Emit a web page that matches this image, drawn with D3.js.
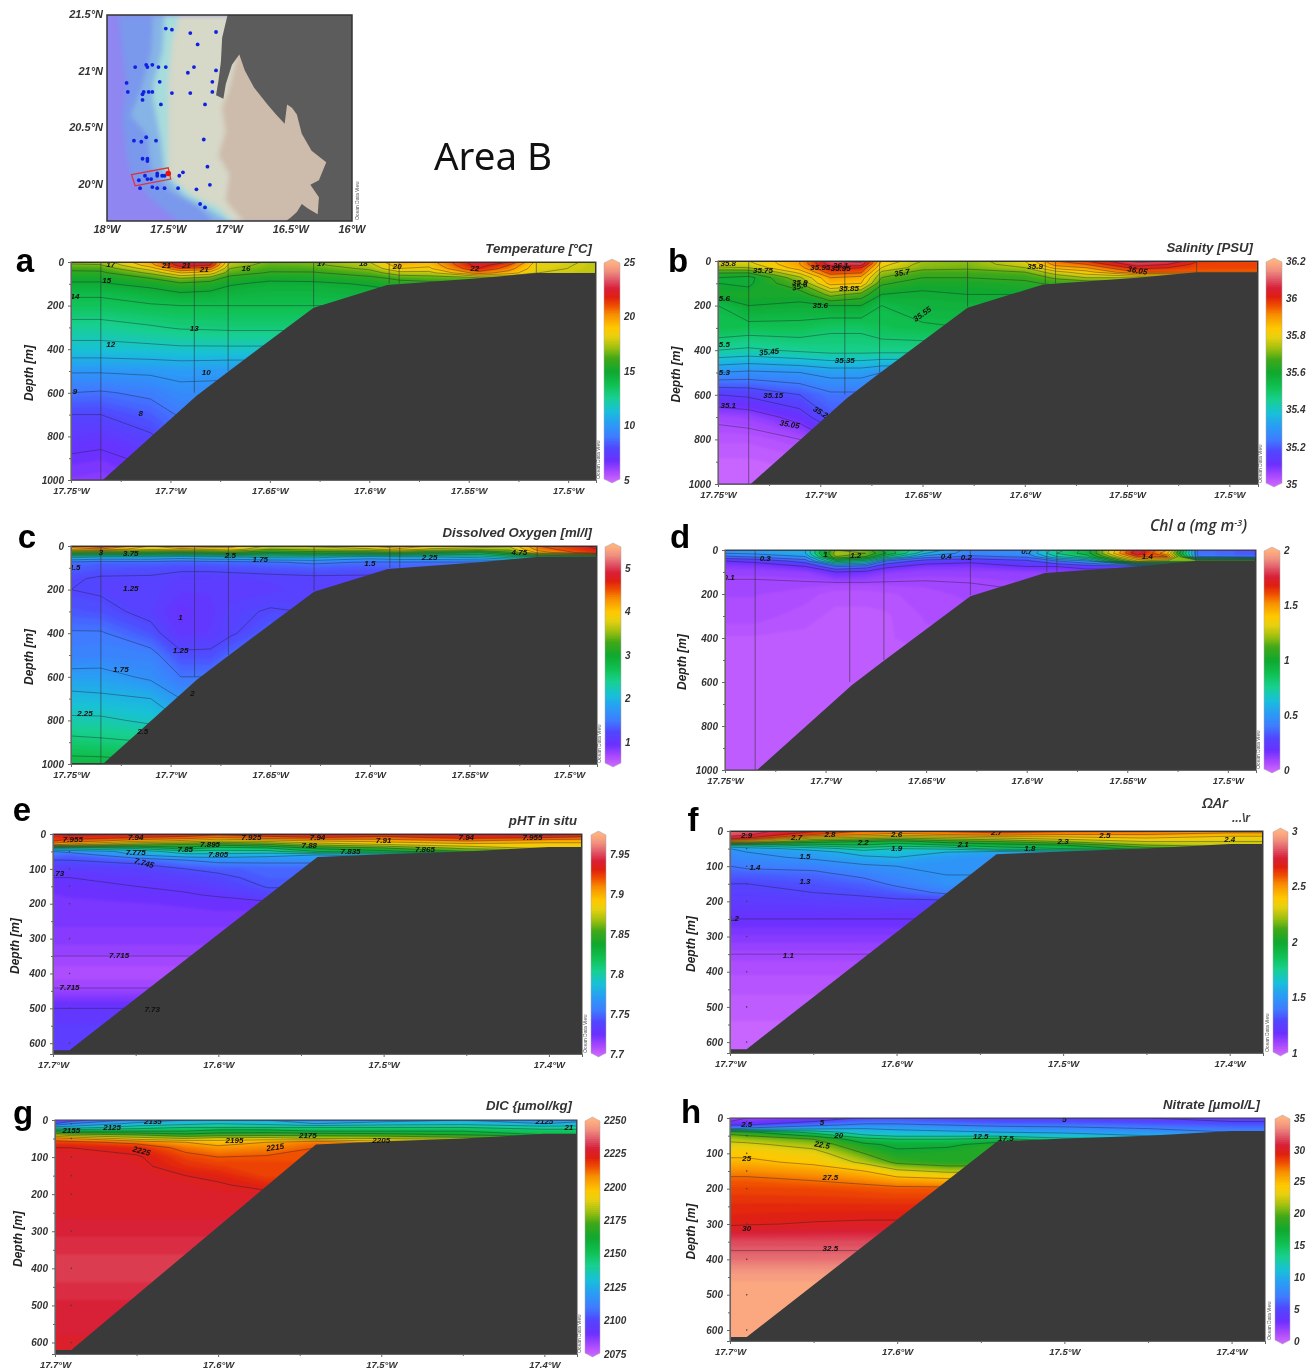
<!DOCTYPE html>
<html>
<head>
<meta charset="utf-8">
<title>Area B sections</title>
<script src="https://d3js.org/d3.v7.min.js"></script>
<style>
	body { margin: 0; background: #fff; }
	svg { display: block; filter: blur(0.45px); }
	text { font-family: "Liberation Sans", Arial, sans-serif; }
	.tick text, .ticklabel { font-weight: bold; font-style: italic; fill: #333; }
	.clabel { font-size: 8px; font-weight: bold; font-style: italic; fill: #111; text-anchor: middle; dominant-baseline: middle; }
</style>
</head>
<body>
<div id="plot"></div>
<script>
// ---- map data, [lon W, lat N]
const mapStations = [[17.52,21.38],[17.47,21.37],[17.32,21.34],[17.11,21.35],[17.26,21.24],[17.77,21.04],[17.68,21.06],[17.67,21.04],[17.63,21.06],[17.58,21.04],[17.52,21.04],[17.29,21.04],[17.34,20.99],[17.11,21.01],[17.84,20.9],[17.57,20.91],[17.14,20.91],[17.83,20.82],[17.7,20.82],[17.71,20.8],[17.66,20.82],[17.63,20.82],[17.47,20.81],[17.32,20.81],[17.14,20.82],[17.71,20.75],[17.56,20.71],[17.2,20.71],[17.68,20.42],[17.78,20.39],[17.72,20.38],[17.6,20.39],[17.21,20.4],[17.71,20.23],[17.67,20.23],[17.67,20.21],[17.18,20.16],[17.38,20.11],[17.41,20.08],[17.69,20.08],[17.59,20.1],[17.59,20.08],[17.55,20.08],[17.53,20.08],[17.74,20.04],[17.67,20.05],[17.64,20.05],[17.16,20.0],[17.73,19.97],[17.63,19.98],[17.59,19.97],[17.53,19.97],[17.42,19.97],[17.27,19.96],[17.24,19.83],[17.2,19.8]];
const mapRedStation = [17.5, 20.1];
const mapTransect = [[17.8,20.09],[17.5,20.15],[17.48,20.05],[17.77,19.99]];
const mapLand = [[17.016,21.5],[17.06,21.3],[17.07,21.09],[17.09,20.92],[17.11,20.79],[17.05,20.76],[17.03,20.89],[16.98,21.06],[16.92,21.15],[16.875,21.01],[16.8,20.86],[16.69,20.71],[16.62,20.62],[16.55,20.54],[16.53,20.71],[16.49,20.68],[16.45,20.62],[16.41,20.45],[16.33,20.3],[16.21,20.2],[16.27,20.04],[16.34,20],[16.27,19.89],[16.28,19.74],[16.36,19.79],[16.41,19.83],[16.45,19.76],[16.5,19.71],[16.55,19.67],[16,19.67],[16,21.5]];
const bathyA = [[17.906,21.5],[17.875,21.18],[17.844,20.89],[17.875,20.59],[17.844,20.3],[17.81,20.09],[17.625,19.86],[17.41,19.67],[16,19.67],[16,21.5]];
const bathyB = [[17.625,21.5],[17.64,21.18],[17.72,20.85],[17.81,20.61],[17.67,20.44],[17.64,20.15],[17.5,19.95],[17.25,19.8],[17.125,19.67],[16,19.67],[16,21.5]];
const bathyC = [[17.53,21.5],[17.55,21.18],[17.625,20.89],[17.625,20.75],[17.56,20.38],[17.53,20.09],[17.375,19.91],[17.19,19.8],[17.0,19.67],[16,19.67],[16,21.5]];
const bathyD = [[17.41,21.5],[17.47,21.27],[17.5,20.89],[17.5,20.7],[17.5,20.38],[17.5,20.09],[17.31,19.91],[17.09,19.8],[16.97,19.67],[16,19.67],[16,21.5]];
const bathyE = [[16.92,21.2],[17.0,20.85],[17.06,20.68],[17.03,20.47],[17.09,20.26],[17,20.09],[17.03,19.86],[16.88,19.67],[16,19.67],[16,21.5]];
const bathyColors = ["#7a98ec", "#86b4e6", "#a6dcdc", "#d6d8c8", "#cdbbab"];
const mapLonTicks = [18, 17.5, 17, 16.5, 16];
const mapLatTicks = [21.5, 21, 20.5, 20];

// ---- section grids, north section (a-d)
const lonsNorth = [17.75,17.735,17.71,17.695,17.68,17.67,17.65,17.628,17.6,17.585,17.57,17.545,17.53,17.515,17.486];
const depthsNorth = [0,15,30,50,75,100,150,200,300,400,500,600,700,800,900,1000];
const bottomNorth = [[17.75,1000],[17.734,1000],[17.687,615],[17.672,510],[17.628,210],[17.591,105],[17.545,75],[17.516,50],[17.486,50],[17.486,1000]];
const stationsNorth = [[17.735,1000],[17.688,600],[17.671,500],[17.628,205],[17.59,100],[17.585,100],[17.516,50]];
const lonTicksNorth = [17.75,17.7,17.65,17.6,17.55,17.5];
const lonMinorNorth = [17.725,17.675,17.625,17.575,17.525];
const depthTicksNorth = [0,200,400,600,800,1000];
const depthMinorNorth = [100,300,500,700,900];

// rows may be short, the last value carries on under the sea bed
const temperature = [
	[17.3,17.4,20,23,22.5,18,16.8,17,18,20,19.5,22.8,22,18.5,17.8],
	[16.8,16.9,19.5,22.5,22,17.5,16.6,16.8,17.6,19.5,19.2,22.5,21,18.3,17.8],
	[16.2,16.3,18.5,21,20.5,17,16.3,16.4,17.2,19,18.8,22,20.5,18.2,17.8],
	[15.8,15.8,17.2,19,18.5,16.5,15.9,15.9,16.5,17.6,17.6,20.5,19.5,18,17.8],
	[15.2,15.2,16,17,16.5,15.6,15.2,15.3,15.7,16.2,16.5],
	[14.9,14.9,15.3,15.8,15.6,15.1,14.8,14.8,15.1,15.6],
	[14.1,14.1,14.5,14.8,14.7,14.5,14.4,14.4,14.6],
	[13.7,13.7,13.9,14,14,14,14,14],
	[12.6,12.6,12.9,13.1,13.15,13.2,13.2,13.2],
	[11.6,11.6,11.7,11.8,11.8,11.8,11.8],
	[10.1,10.1,10.2,10.3,10.25,10.2,10.2],
	[9,8.9,9.2,9.7,9.7],
	[8,8,8.5,9.1],
	[7.4,7.3,7.9,8.6],
	[6.9,6.8,7.2],
	[6.5,6.4,6.8]
];
const salinity = [
	[35.8,35.8,35.9,36.1,36.12,35.85,35.75,35.72,35.8,35.95,36,36.12,36.1,36,35.98],
	[35.78,35.78,35.9,36.08,36.08,35.82,35.73,35.72,35.78,35.92,35.95,36.08,36.05,35.98,35.98],
	[35.74,35.75,35.88,36.02,36,35.8,35.72,35.71,35.75,35.87,35.9,36.02,36,35.98,35.98],
	[35.66,35.66,35.82,35.98,35.96,35.74,35.68,35.68,35.7,35.78,35.83,35.95,35.95],
	[35.6,35.58,35.74,35.9,35.88,35.7,35.65,35.65,35.66,35.71,35.75],
	[35.6,35.59,35.7,35.87,35.85,35.66,35.62,35.62,35.64,35.66],
	[35.62,35.62,35.62,35.72,35.68,35.6,35.59,35.6,35.6],
	[35.55,35.6,35.59,35.6,35.6,35.55,35.58,35.58],
	[35.54,35.53,35.53,35.51,35.51,35.53,35.54,35.55],
	[35.45,35.44,35.46,35.47,35.47,35.47,35.47],
	[35.3,35.29,35.3,35.32,35.32,35.3,35.3],
	[35.15,35.16,35.2,35.24,35.24],
	[35.06,35.07,35.12,35.2],
	[35.03,35.03,35.05,35.1],
	[35.01,35.01,35.02],
	[35,35,35.01]
];
const oxygen = [
	[4.4,4.7,4,4.4,4.2,4.1,3.7,3.8,4,4.3,4,3.9,3.8,4.5,4.8],
	[4.1,4.2,3.8,3.9,3.8,3.9,3.5,3.6,3.7,3.9,3.7,3.6,3.6,4.4,4.75],
	[3.2,3.1,3.1,3,3.1,3.2,3,3.1,3.1,3.2,3,2.8,3.2,4.1,4.75],
	[2.1,2,2,1.9,2,2,2.1,2.1,1.9,2,2,2.1,2.4],
	[1.45,1.4,1.42,1.38,1.4,1.42,1.47,1.55,1.47,1.47],
	[1.4,1.35,1.32,1.3,1.3,1.32,1.35,1.38,1.35,1.4],
	[1.28,1.22,1.22,1.16,1.16,1.16,1.18,1.2,1.2],
	[1.25,1.22,1.2,1.12,1.12,1.12,1.15,1.2],
	[1.35,1.32,1.18,1.02,1.08,1.2,1.27,1.24],
	[1.52,1.52,1.33,1.08,1.12,1.22,1.4],
	[1.58,1.6,1.58,1.3,1.3,1.43,1.55],
	[1.85,1.85,1.7,1.5,1.5],
	[2.08,2.05,2,1.75],
	[2.3,2.3,2.2,2],
	[2.58,2.55,2.5],
	[2.85,2.85,2.8]
];
const chlorophyll = [
	[0.5,0.55,0.6,1.2,1.15,0.95,0.7,0.45,0.5,0.75,0.95,1.75,1.5,0.4,0.33],
	[0.5,0.52,0.6,1.25,1.2,1,0.6,0.45,0.5,0.8,0.95,1.8,1.4,0.4,0.33],
	[0.38,0.42,0.5,1.2,1.1,0.8,0.45,0.38,0.42,0.7,0.85,1.6,1.6,0.4,0.33],
	[0.2,0.22,0.35,0.85,0.75,0.4,0.25,0.22,0.28,0.4,0.5,1.3,1.2],
	[0.14,0.15,0.2,0.4,0.35,0.22,0.16,0.16,0.2,0.2,0.25],
	[0.12,0.12,0.13,0.2,0.18,0.14,0.12,0.12,0.13,0.14],
	[0.09,0.09,0.095,0.095,0.095,0.095,0.095,0.1,0.11],
	[0.09,0.09,0.08,0.05,0.05,0.06,0.08,0.095],
	[0.08,0.08,0.05,0.04,0.04,0.04,0.07,0.08],
	[0.04,0.04,0.04,0.04,0.04,0.04,0.06],
	[0.035],[0.035],[0.035],[0.035],[0.035],[0.035]
];

// ---- section grids, south section (e-h)
const lonsSouth = [17.7,17.69,17.65,17.62,17.6,17.57,17.54,17.5,17.45,17.4,17.38];
const depthsSouth = [0,10,20,30,40,50,60,75,100,125,150,175,200,250,300,350,400,450,500,550,631];
const bottomSouth = [[17.7,620],[17.69,620],[17.54,66],[17.5,58],[17.45,50],[17.4,37],[17.38,37],[17.38,631],[17.7,631]];
const lonTicksSouth = [17.7,17.6,17.5,17.4];
const lonMinorSouth = [17.65,17.55,17.45];
const depthTicksSouth = [0,100,200,300,400,500,600];
const depthMinorSouth = [50,150,250,350,450,550];
const bottleDepths = [10,50,100,150,200,300,400,500,600];

const phInSitu = [
	[7.94,7.945,7.94,7.935,7.93,7.935,7.94,7.935,7.94,7.945,7.94],
	[7.93,7.93,7.925,7.92,7.91,7.92,7.925,7.92,7.93,7.925,7.92],
	[7.925,7.92,7.9,7.89,7.88,7.885,7.895,7.9,7.91,7.9,7.9],
	[7.9,7.89,7.86,7.85,7.84,7.85,7.87,7.88,7.89,7.89,7.89],
	[7.8,7.8,7.81,7.83,7.815,7.82,7.84,7.85,7.87,7.885,7.885],
	[7.76,7.765,7.78,7.8,7.8,7.8,7.82,7.83,7.85],
	[7.755,7.75,7.775,7.785,7.785,7.78,7.775,7.78],
	[7.745,7.745,7.75,7.76,7.765,7.765,7.765],
	[7.733,7.735,7.738,7.745,7.748,7.75],
	[7.73,7.73,7.733,7.738,7.742,7.749],
	[7.726,7.727,7.73,7.732,7.737,7.746],
	[7.724,7.725,7.727,7.729,7.731,7.74],
	[7.723,7.723,7.724,7.725,7.726],
	[7.722,7.722,7.722,7.722],
	[7.72,7.72,7.72],
	[7.715,7.715,7.715],
	[7.71,7.71],
	[7.716,7.716],
	[7.73,7.73],
	[7.734],
	[7.735]
];
const omegaAr = [
	[2.85,2.85,2.72,2.6,2.6,2.62,2.65,2.62,2.6,2.55,2.55],
	[2.85,2.82,2.6,2.5,2.45,2.5,2.55,2.5,2.5,2.45,2.45],
	[2.75,2.7,2.3,2.25,2.2,2.25,2.3,2.35,2.4,2.35,2.35],
	[2.4,2.35,2.05,2,1.95,2.05,2.1,2.2,2.3,2.3,2.3],
	[1.75,1.75,1.85,1.9,1.85,1.9,1.95,2,2.2,2.3,2.3],
	[1.5,1.55,1.65,1.75,1.7,1.72,1.85,1.9,2.05],
	[1.48,1.5,1.55,1.65,1.65,1.6,1.55,1.6],
	[1.45,1.47,1.52,1.58,1.6,1.52,1.5],
	[1.4,1.42,1.43,1.48,1.5,1.5],
	[1.35,1.35,1.37,1.42,1.46,1.5],
	[1.3,1.3,1.33,1.36,1.42,1.49],
	[1.27,1.27,1.3,1.32,1.35,1.42],
	[1.25,1.25,1.26,1.27,1.28],
	[1.2,1.2,1.2,1.2],
	[1.15,1.15,1.15],
	[1.1,1.1,1.1],
	[1.07,1.07],
	[1.05,1.05],
	[1.03,1.03],
	[1.02],
	[1]
];
const dic = [
	[2095,2100,2118,2125,2128,2125,2118,2120,2125,2118,2122],
	[2105,2115,2128,2132,2135,2132,2125,2130,2132,2125,2128],
	[2130,2130,2140,2145,2145,2145,2145,2145,2145,2140,2140],
	[2160,2155,2155,2155,2160,2160,2155,2155,2155,2150,2150],
	[2185,2180,2175,2168,2170,2172,2172,2170,2165,2155,2155],
	[2210,2205,2190,2185,2190,2190,2185,2185,2180],
	[2218,2218,2212,2205,2200,2205,2212,2200],
	[2225,2225,2222,2212,2208,2210,2215],
	[2228,2228,2226,2218,2215,2216],
	[2228,2228,2227,2221,2219,2218],
	[2228,2228,2228,2225,2223,2218],
	[2228,2228,2228,2227,2226,2222],
	[2228,2228,2228,2227,2227],
	[2228,2228,2228,2228],
	[2230,2230,2230],
	[2232,2232,2232],
	[2234,2234],
	[2232,2232],
	[2230,2230],
	[2229],
	[2228]
];
const nitrate = [
	[2,2.5,3,5.5,6,5.5,5,5,5,4.5,4],
	[2.5,2.5,5,6.5,6.5,6,5.5,5.5,5,5,5],
	[5,5,7,8,8,7.5,7,7,6.5,6,6],
	[7,8,9.5,10,9.5,9,8.5,8,7.5,7,7],
	[19,18,14,11,11,10.5,10,9.5,9,7.5,7],
	[20.5,20,17,13,12,12,12,11.5,10],
	[22,21.5,20,16,15,15,16,13],
	[23,23,21.5,18,17,17,18.5],
	[24.5,24.5,23.5,20,18,18.5],
	[25.5,25.5,24.5,22,19.5,18.5],
	[26.8,26.8,26.2,25,23,22],
	[27.9,27.9,27.4,26.8,26,25.5],
	[28.5,28.5,28.4,28.2,28],
	[29.3,29.3,29.3,29.3],
	[29.8,29.9,30.1,30.2],
	[32,32,32],
	[33,33],
	[34.5,34.5],
	[35,35],
	[35],
	[35]
];

// ---- contour labels, [lon, depth, text, angle]
const labelsA = [[17.73,15,"17"],[17.702,18,"21"],[17.692,18,"21"],[17.683,35,"21"],[17.662,30,"16"],[17.624,8,"17"],[17.603,8,"18"],[17.586,22,"20"],[17.547,30,"22"],[17.732,85,"15"],[17.748,162,"14"],[17.688,308,"13"],[17.73,378,"12"],[17.682,510,"10"],[17.748,595,"9"],[17.715,695,"8"]];
const labelsB = [[17.745,12,"35.8"],[17.728,45,"35.75"],[17.69,35,"35.95"],[17.7,30,"35.95"],[17.69,20,"36.1"],[17.71,100,"35.9"],[17.686,125,"35.85"],[17.66,55,"35.7",-10],[17.7,200,"35.6"],[17.71,115,"35.6",-15],[17.748,170,"35.6"],[17.65,240,"35.55",-35],[17.595,25,"35.9"],[17.545,45,"36.05",10],[17.725,410,"35.45",-5],[17.688,450,"35.35"],[17.748,375,"35.5"],[17.748,500,"35.3"],[17.723,605,"35.15"],[17.715,735,"35.05",10],[17.745,650,"35.1"],[17.7,680,"35.2",30]];
const labelsC = [[17.735,30,"3"],[17.72,35,"3.75"],[17.67,45,"2.5"],[17.655,65,"1.75"],[17.6,80,"1.5"],[17.57,55,"2.25"],[17.525,30,"4.75"],[17.748,100,"1.5"],[17.72,195,"1.25"],[17.695,330,"1"],[17.695,480,"1.25"],[17.725,570,"1.75"],[17.689,680,"2",0],[17.743,770,"2.25"],[17.714,855,"2.5"]];
const labelsD = [[17.73,40,"0.3"],[17.63,35,"0.2"],[17.64,30,"0.4"],[17.748,125,"0.1"],[17.7,20,"1"],[17.685,25,"1.2"],[17.54,30,"1.4"],[17.6,10,"0.7"]];
const labelsE = [[17.688,18,"7.955"],[17.65,10,"7.94"],[17.58,10,"7.925"],[17.54,10,"7.94"],[17.5,20,"7.91"],[17.45,10,"7.94"],[17.41,10,"7.955"],[17.605,30,"7.895"],[17.62,45,"7.85"],[17.545,35,"7.88"],[17.6,60,"7.805"],[17.52,50,"7.835"],[17.475,45,"7.865"],[17.65,55,"7.775"],[17.645,85,"7.745",15],[17.698,115,"7.73"],[17.66,350,"7.715"],[17.69,440,"7.715"],[17.64,505,"7.73"]];
const labelsF = [[17.69,15,"2.9"],[17.66,20,"2.7"],[17.64,10,"2.8"],[17.6,10,"2.6"],[17.54,5,"2.7"],[17.475,15,"2.5"],[17.4,25,"2.4"],[17.62,35,"2.2"],[17.6,50,"1.9"],[17.56,40,"2.1"],[17.5,30,"2.3"],[17.52,50,"1.8"],[17.655,75,"1.5"],[17.685,105,"1.4"],[17.655,145,"1.3"],[17.698,250,"1.2"],[17.665,355,"1.1"]];
const labelsG = [[17.69,30,"2155"],[17.665,22,"2125"],[17.64,5,"2135"],[17.59,55,"2195"],[17.545,42,"2175"],[17.565,75,"2215",-8],[17.647,85,"2225",15],[17.5,55,"2205"],[17.4,5,"2125"],[17.385,20,"21"]];
const labelsH = [[17.69,20,"2.5"],[17.645,15,"5"],[17.635,50,"20"],[17.55,53,"12.5"],[17.535,60,"17.5"],[17.645,78,"22.5",10],[17.69,115,"25"],[17.64,170,"27.5"],[17.69,315,"30"],[17.64,370,"32.5"],[17.5,5,"5"]];

// ---- colour map
const colorStops = [[0,"#c864ff"],[0.04,"#a848ff"],[0.09,"#6c30ff"],[0.15,"#5048ff"],[0.2,"#3f7cff"],[0.26,"#2a9cf5"],[0.32,"#18c0d8"],[0.38,"#18d090"],[0.44,"#10c050"],[0.5,"#10a830"],[0.56,"#40a818"],[0.61,"#a0c010"],[0.66,"#e8d010"],[0.7,"#ffc800"],[0.76,"#f89000"],[0.8,"#f05000"],[0.84,"#e02010"],[0.88,"#d82038"],[0.92,"#e05868"],[0.96,"#f09080"],[1,"#ffb080"]];
const colorAt = d3.scaleLinear().domain(colorStops.map(d => d[0])).range(colorStops.map(d => d[1])).clamp(true);

const svg = d3.select("#plot").append("svg").attr("width", 1315).attr("height", 1372);
const defs = svg.append("defs");

// ---- map
function drawMap() {
	const x = d3.scaleLinear().domain([18, 16]).range([107, 352]);
	const y = d3.scaleLinear().domain([21.5, 19.68]).range([15, 221]);
	const line = d3.line().x(d => x(d[0])).y(d => y(d[1])).curve(d3.curveLinearClosed);
	defs.append("clipPath").attr("id", "mapclip").append("rect")
		.attr("x", 107).attr("y", 15).attr("width", 245).attr("height", 206);
	const g = svg.append("g");
	const inner = g.append("g").attr("clip-path", "url(#mapclip)");
	inner.append("rect").attr("x", 107).attr("y", 15).attr("width", 245).attr("height", 206).attr("fill", "#8f86f2");
	const soft = inner.append("g").style("filter", "blur(2.5px)");
	[bathyA, bathyB, bathyC, bathyD, bathyE].forEach((b, i) => {
		soft.append("path").attr("d", line(b)).attr("fill", bathyColors[i]);
	});
	inner.append("path").attr("d", line(mapLand)).attr("fill", "#5c5c5c");
	inner.append("path").attr("d", line(mapTransect)).attr("fill", "none").attr("stroke", "#e03030").attr("stroke-width", 1.2);
	inner.selectAll(".st").data(mapStations).enter().append("circle")
		.attr("cx", d => x(d[0])).attr("cy", d => y(d[1])).attr("r", 1.9).attr("fill", "#1020e0");
	inner.append("circle").attr("cx", x(mapRedStation[0])).attr("cy", y(mapRedStation[1])).attr("r", 2.8).attr("fill", "#f01010");
	g.append("rect").attr("x", 107).attr("y", 15).attr("width", 245).attr("height", 206)
		.attr("fill", "none").attr("stroke", "#333").attr("stroke-width", 1.5);
	g.selectAll(".lonl").data(mapLonTicks).enter().append("text").attr("class", "ticklabel")
		.attr("x", d => x(d)).attr("y", 233).attr("text-anchor", "middle").attr("font-size", 11)
		.text(d => d + "°W");
	g.selectAll(".latl").data(mapLatTicks).enter().append("text").attr("class", "ticklabel")
		.attr("x", 103).attr("y", d => y(d) + 3).attr("text-anchor", "end").attr("font-size", 11)
		.text(d => d + "°N");
	g.append("text").attr("transform", "translate(359,220) rotate(-90)").attr("font-size", 5).attr("fill", "#555").text("Ocean Data View");
}

// ---- one section panel
function drawSection(p) {
	const { box } = p;
	const x = d3.scaleLinear().domain(p.lonDomain).range([box.left, box.right]);
	const y = d3.scaleLinear().domain(p.depthDomain).range([box.top, box.bottom]);
	const color = v => colorAt((v - p.bar[0]) / (p.bar[1] - p.bar[0]));

	// rows can stop at the sea bed, carry the last value to the end of the grid
	const nx = p.lons.length, ny = p.depths.length;
	const flat = [];
	p.values.forEach(row => {
		for (let i = 0; i < nx; i++) flat.push(i < row.length ? row[i] : row[row.length - 1]);
	});

	// contour grid cells to lon and depth, then to pixels
	const gx = d3.scaleLinear().domain(p.lons.map((d, i) => i + 0.5)).range(p.lons.map(x)).clamp(true);
	const gy = d3.scaleLinear().domain(p.depths.map((d, j) => j + 0.5)).range(p.depths.map(y)).clamp(true);
	const path = d3.geoPath(d3.geoTransform({ point(a, b) { this.stream.point(gx(a), gy(b)); } }));

	const clipId = "clip" + p.letter;
	defs.append("clipPath").attr("id", clipId).append("rect")
		.attr("x", box.left).attr("y", box.top).attr("width", box.right - box.left).attr("height", box.bottom - box.top);
	const g = svg.append("g");
	const inner = g.append("g").attr("clip-path", `url(#${clipId})`);

	const fillLevels = d3.range(0, 90).map(i => p.bar[0] + (p.bar[1] - p.bar[0]) * i / 90);
	const contours = d3.contours().size([nx, ny]);
	const fills = inner.append("g").style("filter", "blur(0.8px)");
	fills.append("rect").attr("x", box.left - 4).attr("y", box.top - 4)
		.attr("width", box.right - box.left + 8).attr("height", box.bottom - box.top + 8)
		.attr("fill", color(p.bar[0]));
	fills.selectAll("path").data(contours.thresholds(fillLevels)(flat)).enter().append("path")
		.attr("d", path).attr("fill", d => color(d.value)).attr("stroke", d => color(d.value)).attr("stroke-width", 0.4);

	// iso lines
	inner.append("g").selectAll("path").data(contours.thresholds(p.isoLevels)(flat)).enter().append("path")
		.attr("d", path).attr("fill", "none").attr("stroke", "#1c1c2c").attr("stroke-opacity", 0.55).attr("stroke-width", 0.7);

	// stations
	if (p.stations) {
		inner.selectAll(".stn").data(p.stations).enter().append("line")
			.attr("x1", d => x(d[0])).attr("x2", d => x(d[0])).attr("y1", y(0)).attr("y2", d => y(d[1]))
			.attr("stroke", "#333").attr("stroke-opacity", 0.7).attr("stroke-width", 0.8);
	} else {
		inner.selectAll(".dot").data(bottleDepths).enter().append("circle")
			.attr("cx", x(17.69)).attr("cy", d => y(d)).attr("r", 0.8).attr("fill", "#444");
	}

	// sea bed
	inner.append("path")
		.attr("d", d3.line().x(d => x(d[0])).y(d => y(d[1])).curve(d3.curveLinearClosed)(p.bottom))
		.attr("fill", "#3a3a3a");

	// labels
	inner.selectAll(".clabel").data(p.labels).enter().append("text").attr("class", "clabel")
		.attr("transform", d => `translate(${x(d[0])},${y(d[1])}) rotate(${d[3] || 0})`)
		.text(d => d[2]);

	g.append("rect").attr("x", box.left).attr("y", box.top)
		.attr("width", box.right - box.left).attr("height", box.bottom - box.top)
		.attr("fill", "none").attr("stroke", "#444").attr("stroke-width", 1);

	// axes
	const xAxis = d3.axisBottom(x).tickValues(p.lonTicks).tickSize(3).tickPadding(4).tickFormat(d => d + "°W");
	const gxa = g.append("g").attr("transform", `translate(0,${box.bottom})`).call(xAxis);
	g.append("g").attr("transform", `translate(0,${box.bottom})`)
		.call(d3.axisBottom(x).tickValues(p.lonMinor).tickSize(2).tickFormat(""));
	const yAxis = d3.axisLeft(y).tickValues(p.depthTicks).tickSize(3).tickPadding(4).tickFormat(d => d);
	const gya = g.append("g").attr("transform", `translate(${box.left},0)`).call(yAxis);
	g.append("g").attr("transform", `translate(${box.left},0)`)
		.call(d3.axisLeft(y).tickValues(p.depthMinor).tickSize(2).tickFormat(""));
	g.selectAll(".domain").attr("stroke", "#666");
	g.selectAll(".tick line").attr("stroke", "#666");
	gxa.selectAll("text").attr("font-size", 9.5).style("font-family", "Liberation Sans");
	gya.selectAll("text").attr("font-size", 10).style("font-family", "Liberation Sans");

	g.append("text").attr("class", "ticklabel")
		.attr("transform", `translate(${p.depthLabelX},${(box.top + box.bottom) / 2 + 2}) rotate(-90)`)
		.attr("text-anchor", "middle").attr("font-size", 12).style("fill", "#222").text("Depth [m]");

	// title and letter
	if (p.title) {
		g.append("text").attr("x", p.titleX).attr("y", p.titleY).attr("text-anchor", "end")
			.attr("font-size", 13.2).attr("font-weight", "bold").attr("font-style", "italic").attr("fill", "#333").text(p.title);
	}
	g.append("text").attr("x", p.letterX).attr("y", p.letterY).attr("text-anchor", "middle")
		.attr("font-size", 33).attr("font-weight", "bold").attr("fill", "#000").text(p.letter);

	// colour bar
	const cb = p.colorbar;
	const cy = d3.scaleLinear().domain(p.bar).range([box.bottom, box.top]);
	const barId = "bar" + p.letter;
	const mid = (cb.x0 + cb.x1) / 2;
	const outline = d3.line()([
		[cb.x0, cy(p.bar[1]) + 1], [mid, cy(p.bar[1]) - 3], [cb.x1, cy(p.bar[1]) + 1],
		[cb.x1, cy(p.bar[0]) - 1], [mid, cy(p.bar[0]) + 3], [cb.x0, cy(p.bar[0]) - 1]
	]) + "Z";
	defs.append("clipPath").attr("id", barId).append("path").attr("d", outline);
	const steps = d3.range(0, 120).map(i => p.bar[0] + (p.bar[1] - p.bar[0]) * i / 119);
	const bh = Math.abs(cy(steps[1]) - cy(steps[0])) + 1;
	g.append("g").attr("clip-path", `url(#${barId})`).selectAll("rect").data(steps).enter().append("rect")
		.attr("x", cb.x0).attr("width", cb.x1 - cb.x0)
		.attr("y", d => cy(d) - bh / 2 - (d === p.bar[1] ? 4 : 0))
		.attr("height", d => bh + (d === p.bar[1] || d === p.bar[0] ? 4 : 0))
		.attr("fill", color);
	g.append("path").attr("d", outline).attr("fill", "none").attr("stroke", "#aaa").attr("stroke-width", 0.5);
	const barAxis = g.append("g").attr("transform", `translate(${cb.x1},0)`)
		.call(d3.axisRight(cy).tickValues(p.barTicks).tickSize(0).tickPadding(4).tickFormat(d => d));
	barAxis.select(".domain").remove();
	barAxis.selectAll("text").attr("font-size", 10).style("font-family", "Liberation Sans");

	g.append("text").attr("transform", `translate(${cb.x0 - 4},${box.bottom - 1}) rotate(-90)`)
		.attr("font-size", 5).attr("fill", "#555").text("Ocean Data View");
}

const northShared = { lons: lonsNorth, depths: depthsNorth, bottom: bottomNorth, stations: stationsNorth, lonDomain: [17.75, 17.486], depthDomain: [0, 1000], lonTicks: lonTicksNorth, lonMinor: lonMinorNorth, depthTicks: depthTicksNorth, depthMinor: depthMinorNorth };
const southShared = { lons: lonsSouth, depths: depthsSouth, bottom: bottomSouth, lonDomain: [17.7, 17.38], depthDomain: [0, 631], lonTicks: lonTicksSouth, lonMinor: lonMinorSouth, depthTicks: depthTicksSouth, depthMinor: depthMinorSouth };

const panels = [
	{ ...northShared, letter: "a", values: temperature, labels: labelsA, bar: [5, 25], barTicks: [5,10,15,20,25], isoLevels: d3.range(6, 25, 1), title: "Temperature [°C]",
		box: { left: 71, right: 596, top: 262, bottom: 480 }, colorbar: { x0: 604, x1: 620 }, depthLabelX: 33, titleX: 592, titleY: 253, letterX: 25, letterY: 272 },
	{ ...northShared, letter: "b", values: salinity, labels: labelsB, bar: [35, 36.2], barTicks: [35,35.2,35.4,35.6,35.8,36,36.2], isoLevels: d3.range(35.05, 36.2, 0.05), title: "Salinity [PSU]",
		box: { left: 718, right: 1258, top: 261, bottom: 484 }, colorbar: { x0: 1266, x1: 1282 }, depthLabelX: 680, titleX: 1253, titleY: 252, letterX: 678, letterY: 272 },
	{ ...northShared, letter: "c", values: oxygen, labels: labelsC, bar: [0.5, 5.5], barTicks: [1,2,3,4,5], isoLevels: d3.range(1, 5.5, 0.25), title: "Dissolved Oxygen [ml/l]",
		box: { left: 71, right: 597, top: 546, bottom: 764 }, colorbar: { x0: 605, x1: 621 }, depthLabelX: 33, titleX: 592, titleY: 537, letterX: 27, letterY: 548 },
	{ ...northShared, letter: "d", values: chlorophyll, labels: labelsD, bar: [0, 2], barTicks: [0,0.5,1,1.5,2], isoLevels: d3.range(0.1, 2, 0.1), title: null,
		box: { left: 725, right: 1256, top: 550, bottom: 770 }, colorbar: { x0: 1264, x1: 1280 }, depthLabelX: 686, letterX: 680, letterY: 548 },
	{ ...southShared, letter: "e", values: phInSitu, labels: labelsE, bar: [7.7, 7.975], barTicks: [7.7,7.75,7.8,7.85,7.9,7.95], isoLevels: d3.range(7.715, 7.97, 0.015), title: "pHT in situ",
		box: { left: 53, right: 582, top: 834, bottom: 1054 }, colorbar: { x0: 591, x1: 606 }, depthLabelX: 19, titleX: 577, titleY: 825, letterX: 22, letterY: 821 },
	{ ...southShared, letter: "f", values: omegaAr, labels: labelsF, bar: [1, 3], barTicks: [1,1.5,2,2.5,3], isoLevels: d3.range(1.1, 3, 0.1), title: null,
		box: { left: 730, right: 1263, top: 831, bottom: 1053 }, colorbar: { x0: 1273, x1: 1288 }, depthLabelX: 695, letterX: 693, letterY: 831 },
	{ ...southShared, letter: "g", values: dic, labels: labelsG, bar: [2075, 2250], barTicks: [2075,2100,2125,2150,2175,2200,2225,2250], isoLevels: d3.range(2105, 2250, 10), title: "DIC {µmol/kg]",
		box: { left: 55, right: 577, top: 1120, bottom: 1354 }, colorbar: { x0: 585, x1: 600 }, depthLabelX: 22, titleX: 572, titleY: 1110, letterX: 23, letterY: 1124 },
	{ ...southShared, letter: "h", values: nitrate, labels: labelsH, bar: [0, 35], barTicks: [0,5,10,15,20,25,30,35], isoLevels: d3.range(2.5, 35, 2.5), title: "Nitrate [µmol/L]",
		box: { left: 730, right: 1265, top: 1118, bottom: 1341 }, colorbar: { x0: 1275, x1: 1290 }, depthLabelX: 695, titleX: 1260, titleY: 1109, letterX: 691, letterY: 1123 }
];

drawMap();
panels.forEach(drawSection);

// loose text
svg.append("text").attr("x", 434).attr("y", 170).attr("font-size", 38.5).style("font-family", "Noto Sans").attr("fill", "#111").text("Area B");
const chl = svg.append("text").attr("x", 1247).attr("y", 531).attr("text-anchor", "end").attr("font-size", 15.5).attr("font-style", "italic").attr("font-weight", 600).style("font-family", "Open Sans").attr("fill", "#333");
chl.append("tspan").text("Chl a (mg m");
chl.append("tspan").attr("dy", -5).attr("font-size", 9).text("-3");
chl.append("tspan").attr("dy", 5).text(")");
svg.append("text").attr("x", 1202).attr("y", 808).attr("font-size", 15).attr("font-style", "italic").attr("font-weight", 600).style("font-family", "Open Sans").attr("fill", "#333").text("ΩAr");
svg.append("text").attr("x", 1232).attr("y", 822).attr("font-size", 12).attr("font-style", "italic").attr("font-weight", "bold").attr("fill", "#444").text("...\\r");
</script>
</body>
</html>
